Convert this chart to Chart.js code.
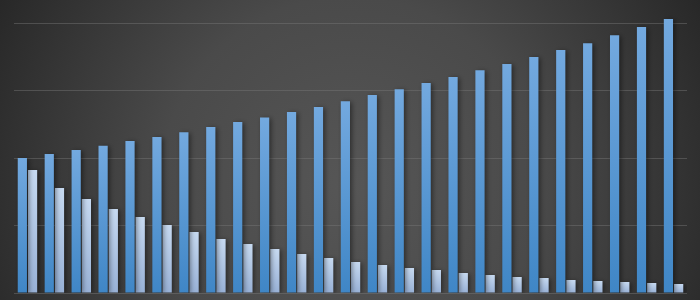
<!DOCTYPE html>
<html><head><meta charset="utf-8">
<script src="https://cdn.jsdelivr.net/npm/chart.js@4/dist/chart.umd.min.js"></script>
<style>html,body{margin:0;padding:0;background:#333;}#wrap{width:700px;height:300px;}</style>
</head><body><div id="wrap"><canvas id="c" width="700" height="300"></canvas></div>
<script>
const categories = ["1","2","3","4","5","6","7","8","9","10","11","12","13","14","15","16","17","18","19","20","21","22","23","24","25"];
const seriesA = [100,103,106,109,112.6,115.6,119,123,126.7,130,134,137.8,142,146.7,151,155.6,160,165,169.6,174.8,180,185,191,197,203];
const seriesB = [91.1,77.8,69.6,62.2,56.3,50.4,45.2,40,36.3,32.6,28.9,25.9,23,20.7,18.5,17,14.8,13.3,11.9,11.1,9.6,8.9,8.1,7.4,6.7];
const yTicks = [0,50,100,150,200];

function barGrad(top, bottom){
  return function(ctx){
    const chart = ctx.chart;
    if(!chart.chartArea || ctx.parsed === undefined) return top;
    const ys = chart.scales.y;
    const y0 = ys.getPixelForValue(0);
    const y1 = ys.getPixelForValue(ctx.parsed.y);
    if(!isFinite(y0)||!isFinite(y1)||y0===y1) return top;
    const g = chart.ctx.createLinearGradient(0,y1,0,y0);
    g.addColorStop(0,top); g.addColorStop(1,bottom);
    return g;
  };
}

const bgPlugin = {
  id:'bg',
  beforeDraw(chart){
    const c = chart.ctx, w = chart.width, h = chart.height;
    c.save();
    const g = c.createRadialGradient(w/2, h*0.62, 0, w/2, h*0.62, w*0.6);
    g.addColorStop(0,'#565656');
    g.addColorStop(0.45,'#4a4a4a');
    g.addColorStop(1,'#242424');
    c.fillStyle = g; c.fillRect(0,0,w,h);
    c.restore();
  },
  beforeDatasetsDraw(chart){
    const c = chart.ctx;
    c.save();
    c.shadowColor = 'rgba(0,0,0,0.45)';
    c.shadowBlur = 5;
    c.shadowOffsetX = 2;
    c.shadowOffsetY = 1;
  },
  afterDatasetsDraw(chart){ chart.ctx.restore(); }
};

new Chart(document.getElementById('c'), {
  type:'bar',
  data:{
    labels: categories,
    datasets:[
      {data: seriesA, backgroundColor: barGrad('#73a9df','#3f86c6'), borderWidth:0},
      {data: seriesB, backgroundColor: barGrad('#c6d9f0','#98b1d6'), borderWidth:0}
    ]
  },
  options:{
    responsive:false, animation:false,
    layout:{padding:{left:14,right:13,top:9.5,bottom:7}},
    plugins:{legend:{display:false}, tooltip:{enabled:false}},
    datasets:{bar:{categoryPercentage:0.76, barPercentage:0.9}},
    scales:{
      x:{display:false},
      y:{min:0,max:210,
        afterBuildTicks(s){ s.ticks = yTicks.map(v=>({value:v})); },
        ticks:{display:false},
        border:{display:false},
        grid:{color:'rgba(120,120,120,0.45)', lineWidth:1, drawTicks:false}
      }
    }
  },
  plugins:[bgPlugin]
});
</script></body></html>
